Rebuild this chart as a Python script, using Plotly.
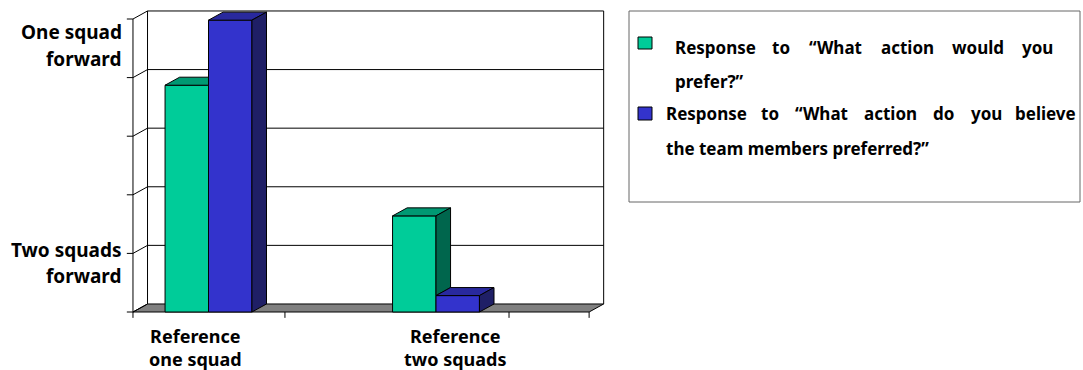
import plotly.graph_objects as go

# ---------------- data ----------------
categories = [0, 1]
category_labels = ["Reference<br>one squad", "Reference<br>two squads"]
category_label_x = [-0.059, 1.083]
preferred = [3.87, 1.64]          # "What action would you prefer?"
believed = [4.98, 0.28]           # "What action do you believe the team members preferred?"
y_tick_values = [0, 1, 2, 3, 4, 5]
x_tick_positions = [-0.332, 0.336, 1.321, 1.673]
y_axis_labels = [["One squad", "forward"], ["Two squads", "forward"]]
legend_line1_words = ["Response", "to", "“What", "action", "would", "you"]
legend_line1_tail = "prefer?”"
legend_line2_words = ["Response", "to", "“What", "action", "do", "you", "believe"]
legend_line2_tail = "the team members preferred?”"

# ---------------- styling / geometry ----------------
W, H = 1083, 370
GREEN = dict(front="#00CC99", top="#009973", side="#00664D")
BLUE = dict(front="#3333CC", top="#29299E", side="#1F1F66")
BAR_W = 0.191
DX, DY = 0.064, 0.137
X_LEFT, X_RIGHT = x_tick_positions[0], x_tick_positions[-1]
Y_MAX = max(y_tick_values)
XR = [-0.91648, 3.84396]
YR = [-0.9898, 5.3242]
FONT = "Noto Sans, DejaVu Sans, sans-serif"


def px_x(p):
    return p / W


def px_y(p):
    return 1 - p / H


fig = go.Figure()

# front faces (bars)
fig.add_trace(go.Bar(x=categories, y=preferred, width=BAR_W, offset=-BAR_W,
                     marker=dict(color=GREEN["front"], line=dict(color="black", width=1)),
                     showlegend=False, hoverinfo="skip"))
fig.add_trace(go.Bar(x=categories, y=believed, width=BAR_W, offset=0,
                     marker=dict(color=BLUE["front"], line=dict(color="black", width=1)),
                     showlegend=False, hoverinfo="skip"))


def poly(pts, color):
    xs = [p[0] for p in pts] + [pts[0][0]]
    ys = [p[1] for p in pts] + [pts[0][1]]
    fig.add_trace(go.Scatter(x=xs, y=ys, mode="lines", fill="toself", fillcolor=color,
                             line=dict(color="black", width=1), showlegend=False,
                             hoverinfo="skip"))


# 3-D top and side faces derived from values
for c, vg, vb in zip(categories, preferred, believed):
    g0, g1 = c - BAR_W, c
    b0, b1 = c, c + BAR_W
    if vb >= vg:
        poly([(g0, vg), (g1, vg), (g1, vg + DY), (g0 + DX, vg + DY)], GREEN["top"])
    else:
        poly([(g0, vg), (g1, vg), (g1 + DX, vg + DY), (g0 + DX, vg + DY)], GREEN["top"])
        poly([(g1, vb), (g1, vg), (g1 + DX, vg + DY), (g1 + DX, vb + DY)], GREEN["side"])
    poly([(b0, vb), (b1, vb), (b1 + DX, vb + DY), (b0 + DX, vb + DY)], BLUE["top"])
    poly([(b1, 0), (b1, vb), (b1 + DX, vb + DY), (b1 + DX, DY)], BLUE["side"])

shapes = []
line_k = dict(color="black", width=1)
# floor
shapes.append(dict(type="path", xref="x", yref="y", layer="below",
                   path=f"M {X_LEFT},0 L {X_RIGHT},0 L {X_RIGHT+DX},{DY} L {X_LEFT+DX},{DY} Z",
                   fillcolor="#808080", line=line_k))
# back wall grid + left wall diagonals
for v in y_tick_values:
    if v > 0:
        shapes.append(dict(type="line", xref="x", yref="y", layer="below",
                           x0=X_LEFT + DX, x1=X_RIGHT + DX, y0=v + DY, y1=v + DY, line=line_k))
    shapes.append(dict(type="line", xref="x", yref="y", layer="below",
                       x0=X_LEFT, x1=X_LEFT + DX, y0=v, y1=v + DY, line=line_k))
    shapes.append(dict(type="line", xref="x", yref="y", layer="below",
                       x0=X_LEFT - 0.027, x1=X_LEFT, y0=v, y1=v, line=line_k))
for xe in (X_LEFT + DX, X_RIGHT + DX):
    shapes.append(dict(type="line", xref="x", yref="y", layer="below",
                       x0=xe, x1=xe, y0=DY, y1=Y_MAX + DY, line=line_k))
shapes.append(dict(type="line", xref="x", yref="y", layer="below",
                   x0=X_LEFT, x1=X_LEFT, y0=0, y1=Y_MAX, line=line_k))
for t in x_tick_positions:
    shapes.append(dict(type="line", xref="x", yref="y", layer="below",
                       x0=t, x1=t, y0=0, y1=-0.1, line=line_k))

# legend box
shapes.append(dict(type="rect", xref="paper", yref="paper",
                   x0=px_x(629), x1=px_x(1080), y0=px_y(202), y1=px_y(11),
                   line=dict(color="#666666", width=1), fillcolor="rgba(0,0,0,0)"))
for (y0, y1), col in zip([(37, 49), (107, 120)], [GREEN["front"], BLUE["front"]]):
    shapes.append(dict(type="rect", xref="paper", yref="paper",
                       x0=px_x(638), x1=px_x(652), y0=px_y(y1), y1=px_y(y0),
                       line=dict(color="black", width=1), fillcolor=col))

ann = []


def text(t, x, y, anchor, size, xref="paper"):
    ann.append(dict(text=f"<b>{t}</b>", x=x if xref == "x" else px_x(x), y=px_y(y),
                    xref=xref, yref="paper",
                    xanchor=anchor, yanchor="middle", showarrow=False,
                    font=dict(family=FONT, size=size, color="black")))


# category labels
for lx, lab in zip(category_label_x, category_labels):
    text(lab, lx, 347, "center", 18, xref="x")

# y axis labels
text(y_axis_labels[0][0], 124, 32, "right", 19)
text(y_axis_labels[0][1], 124, 59, "right", 19)
text(y_axis_labels[1][0], 124, 250, "right", 19)
text(y_axis_labels[1][1], 124, 276, "right", 19)

# legend texts (first lines are justified across the legend width)
LEG = 17
l1_centers = [713, 781, 835, 907, 978, 1039]
for i, (w, cx) in enumerate(zip(legend_line1_words, l1_centers)):
    if i == 0:
        text(w, 673, 47, "left", LEG)
    elif i == len(legend_line1_words) - 1:
        text(w, 1055, 47, "right", LEG)
    else:
        text(w, cx, 47, "center", LEG)
text(legend_line1_tail, 673, 81, "left", LEG)
l2_centers = [704, 770, 821, 890, 943, 986, 1048]
for i, (w, cx) in enumerate(zip(legend_line2_words, l2_centers)):
    if i == 0:
        text(w, 664, 114, "left", LEG)
    elif i == len(legend_line2_words) - 1:
        text(w, 1078, 114, "right", LEG)
    else:
        text(w, cx, 114, "center", LEG)
text(legend_line2_tail, 664, 148, "left", LEG)

fig.update_layout(
    width=W, height=H, margin=dict(l=0, r=0, t=0, b=0),
    paper_bgcolor="white", plot_bgcolor="white",
    barmode="overlay",
    xaxis=dict(range=XR, visible=False, fixedrange=True),
    yaxis=dict(range=YR, visible=False, fixedrange=True),
    shapes=shapes, annotations=ann,
)

fig.write_html("out.html")
